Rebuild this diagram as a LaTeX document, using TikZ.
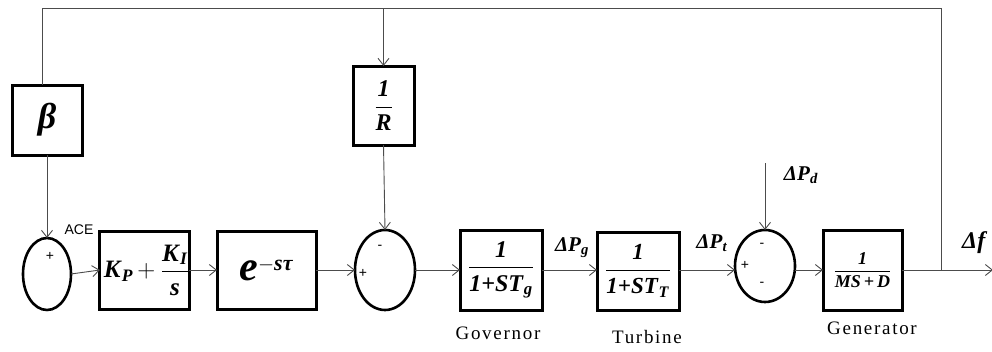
\documentclass[tikz,border=0pt]{standalone}
\usepackage{amsmath}
\usepackage{fontspec}
\setmainfont{Liberation Serif}
\setsansfont{Liberation Sans}
\usetikzlibrary{arrows.meta,shapes.geometric}
\newcommand\bfi[1]{\textbf{\textit{#1}}}

\tikzset{
  blk/.style={draw, line width=3pt, rectangle, inner sep=0pt, outer sep=0pt},
  sumj/.style={draw, line width=2.6pt, ellipse, inner sep=0pt, outer sep=0pt},
  wire/.style={line width=0.9pt, draw=black!70},
  sig/.style={wire, -{Straight Barb[length=7pt,width=11pt]}},
  sgn/.style={font=\sffamily\fontsize{14}{14}\selectfont, inner sep=0pt},
  captxt/.style={font=\fontsize{19}{19}\addfontfeature{LetterSpace=9}\selectfont, inner sep=0pt},
  lbl/.style={font=\fontsize{21}{21}\selectfont, inner sep=0pt},
}

\begin{document}
\begin{tikzpicture}[x=1pt,y=-1pt]
\useasboundingbox (0,0) rectangle (992,351);

% blocks of the forward path
\node[blk, minimum width=70pt, minimum height=70pt] (beta) at (47,120)
  {\fontsize{36}{36}\selectfont\bfi{β}};
\node[sumj, minimum width=48pt, minimum height=72pt] (s1) at (47,274) {};
\node[blk, minimum width=89pt, minimum height=78pt] (pi) at (144.5,270)
  {\fontsize{25}{25}\selectfont\hspace*{4pt}$\bfi{K}_{\bfi{P}}\mkern-1mu+\dfrac{\bfi{K}_{\bfi{I}}}{\bfi{s}}$};
\node[blk, minimum width=99pt, minimum height=78pt] (dly) at (266.5,270)
  {\fontsize{42}{42}\selectfont$\bfi{e}^{\text{\fontsize{22}{22}\selectfont$-$\bfi{sτ}}}$};
\node[blk, minimum width=61pt, minimum height=79pt] (rr) at (383.5,105.5)
  {\fontsize{24}{24}\selectfont$\dfrac{\bfi{1}}{\bfi{R}}$};
\node[sumj, minimum width=60pt, minimum height=80pt] (s2) at (385,270) {};
\node[blk, minimum width=82pt, minimum height=80pt] (gov) at (501,270)
  {\fontsize{24}{24}\selectfont$\dfrac{\bfi{1}}{\bfi{1+ST}_{\bfi{g}}}$};
\node[blk, minimum width=82pt, minimum height=78pt] (tur) at (638,271)
  {\fontsize{23}{23}\selectfont$\dfrac{\bfi{1}}{\bfi{1+ST}_{\bfi{T}}}$};
\node[sumj, minimum width=60pt, minimum height=72pt] (s3) at (765,266) {};
\node[blk, minimum width=79pt, minimum height=80pt] (gen) at (862.5,270)
  {\fontsize{18}{18}\selectfont$\dfrac{\bfi{1}}{\bfi{MS\,+\,D}}$};

% signs at the summing junctions
\node[sgn] (p1) at (50,256) {+};
\node[sgn] (m2) at (380,247) {-};
\node[sgn] (p2) at (363,273) {+};
\node[sgn] (m3a) at (762,245) {-};
\node[sgn] (p3) at (745,265) {+};
\node[sgn] (m3b) at (762,284) {-};

% labels
\node[font=\sffamily\fontsize{14}{14}\selectfont, inner sep=0pt] (ace) at (79,230) {ACE};
\node[lbl] (dpg) at (572,248) {\bfi{ΔP}$_{\bfi{g}}$};
\node[lbl] (dpt) at (712,243) {\bfi{ΔP}$_{\bfi{t}}$};
\node[lbl] (dpd) at (801,175) {\bfi{ΔP}$_{\bfi{d}}$};
\node[lbl, anchor=west, font=\fontsize{24}{24}\selectfont] (df) at (962,243) {\bfi{Δf}};
\node[captxt] (tg) at (498,333) {Governor};
\node[captxt] (tt) at (647,337) {Turbine};
\node[captxt] (tgn) at (872,328) {Generator};

% connection points
\coordinate (br) at (941,270);
\coordinate (out) at (993,270);
\coordinate (tl) at (42,8);
\coordinate (tr) at (941,8);
\coordinate (rt) at (383.5,8);
\coordinate (pd) at (765,163);

% signal flow
\draw[sig] (s1.east) -- (pi.west);
\draw[sig] (pi.east) -- (dly.west);
\draw[sig] (dly.east) -- (s2.west);
\draw[sig] (s2.east) -- (gov.west);
\draw[sig] (gov.east) -- (gov.east -| tur.west);
\draw[sig] (gov.east -| tur.east) -- (gov.east -| s3.west);
\draw[sig] (gen.west -| s3.east) -- (gen.west);
\draw[sig] (gen.east) -- (out);

% feedback paths
\draw[wire] (br) -- (tr) -- (tl) -- (tl |- beta.north);
\draw[sig] (beta.south) -- (s1.north);
\draw[sig] (rt) -- (rr.north);
\draw[sig] (rr.south) -- (s2.north);
\draw[sig] (pd) -- (s3.north);
\end{tikzpicture}
\end{document}
